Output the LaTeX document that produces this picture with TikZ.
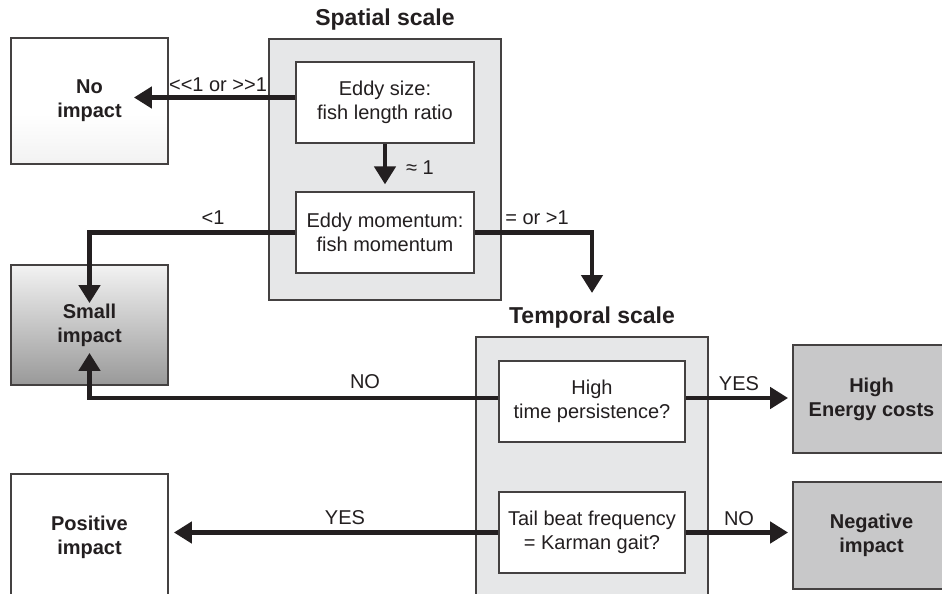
\documentclass[tikz,border=0pt]{standalone}
\usepackage{fontspec}
\setmainfont{Liberation Sans}
\usetikzlibrary{arrows.meta,calc}
\definecolor{ink}{HTML}{231F20}
\definecolor{panel}{HTML}{E6E7E8}
\definecolor{darkbox}{HTML}{C8C8C9}
\pgfdeclareverticalshading{noimpsh}{100bp}{color(0bp)=(black!32); color(22bp)=(black!6); color(45bp)=(white); color(100bp)=(white)}
\begin{document}
\begin{tikzpicture}[x=1pt,y=-1pt,
  font=\fontsize{20}{24}\selectfont,
  arr/.style={line width=4.5pt, draw=ink, -{Triangle[width=21pt,length=18pt]}},
  panelbox/.style={draw=ink!85, line width=1.8pt, fill=panel, minimum width=232pt, inner sep=0pt},
  inbox/.style={draw=ink!85, line width=1.2pt, fill=white, align=center, text=ink, minimum height=81pt, inner sep=0pt},
  sidebox/.style={draw=ink!85, line width=1.8pt, align=center, text=ink, minimum width=157pt, inner sep=0pt, font=\fontsize{20}{24}\selectfont\bfseries},
  ttl/.style={text=ink, font=\fontsize{23}{27}\selectfont\bfseries},
  lbl/.style={text=ink, inner sep=1pt}]
\clip (0,0) rectangle (942,594);
\fill[white] (0,0) rectangle (942,594);
% panels
\node[panelbox, minimum height=261pt] (spatial) at (385,169.5) {};
\node[panelbox, minimum height=290pt] (temporal) at (592,482) {};
\node[ttl] (spt) at (385,20) {Spatial scale};
\node[ttl] (tpt) at (592,318) {Temporal scale};
% inner boxes
\node[inbox, minimum width=178pt] (box1) at (385,102.5) {Eddy size:\\fish length ratio};
\node[inbox, minimum width=178pt] (box2) at (385,232.5) {Eddy momentum:\\fish momentum};
\node[inbox, minimum width=186pt] (box3) at (592,401.5) {High\\time persistence?};
\node[inbox, minimum width=186pt] (box4) at (592,532.5) {Tail beat frequency\\= Karman gait?};
% outcome boxes
\node[sidebox, minimum height=126pt, shading=noimpsh] (noimp) at (89.5,101) {No\\impact};
\node[sidebox, minimum height=120pt, top color=black!5, bottom color=black!40] (smallimp) at (89.5,325) {Small\\impact};
\node[sidebox, minimum height=126pt, fill=white] (posimp) at (89.5,537) {Positive\\impact};
\node[sidebox, minimum height=108pt, fill=darkbox] (highE) at (871.5,399) {High\\Energy costs};
\node[sidebox, minimum height=107pt, fill=darkbox] (negimp) at (871.5,535.5) {Negative\\impact};
% free ends
\coordinate (tipT) at (592,293);
% connectors
\draw[arr] ($(box1.west)+(0,-5)$) -- ($(box1.west -| noimp.east)+(-35,-5)$);
\draw[arr] (box1.south) -- ($(box2.north)+(0,-7)$);
\draw[arr] (box2.west) -| ($(smallimp.north)+(0,39)$);
\draw[arr] (box2.east) -| (tipT);
\draw[arr] ($(box3.west)+(0,-3.5)$) -| ($(smallimp.south)+(0,-33)$);
\draw[arr] ($(box3.east)+(0,-3.5)$) -- ($(box3.east -| highE.west)+(-4,-3.5)$);
\draw[arr] (box4.east) -- ($(box4.east -| negimp.west)+(-4,0)$);
\draw[arr] (box4.west) -- ($(box4.west -| posimp.east)+(5,0)$);
% labels
\node[lbl] (l1) at (218,85) {<{}<1 or >{}>1};
\node[lbl] (l2) at (420,168) {≈ 1};
\node[lbl] (l3) at (213,218) {<1};
\node[lbl] (l4) at (537,218) {= or >1};
\node[lbl] (l5) at (365,382) {NO};
\node[lbl] (l6) at (739,384) {YES};
\node[lbl] (l7) at (739,519) {NO};
\node[lbl] (l8) at (345,518) {YES};
\end{tikzpicture}
\end{document}
